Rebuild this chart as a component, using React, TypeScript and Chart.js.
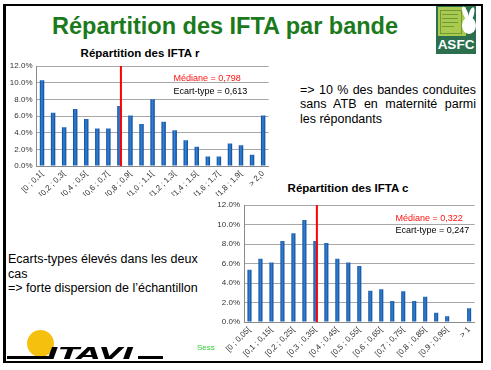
import React, { useEffect, useRef } from 'react';
import { Chart, registerables } from 'chart.js';

Chart.register(...registerables);

// ---------- data ----------
const labelsR = ['[0 ; 0,1[', '[0,1 ; 0,2[', '[0,2 ; 0,3[', '[0,3 ; 0,4[', '[0,4 ; 0,5[', '[0,5 ; 0,6[', '[0,6 ; 0,7[', '[0,7 ; 0,8[', '[0,8 ; 0,9[', '[0,9 ; 1,0[', '[1,0 ; 1,1[', '[1,1 ; 1,2[', '[1,2 ; 1,3[', '[1,3 ; 1,4[', '[1,4 ; 1,5[', '[1,5 ; 1,6[', '[1,6 ; 1,7[', '[1,7 ; 1,8[', '[1,8 ; 1,9[', '[1,9 ; 2,0[', '> 2,0'];
const valuesR = [10.3, 6.4, 4.65, 6.85, 5.65, 4.5, 4.5, 7.2, 6.05, 5.05, 8.0, 5.3, 4.3, 3.1, 2.3, 1.15, 1.15, 2.7, 2.5, 1.35, 6.05];

const labelsC = ['[0 ; 0,05[', '[0,05 ; 0,1[', '[0,1 ; 0,15[', '[0,15 ; 0,2[', '[0,2 ; 0,25[', '[0,25 ; 0,3[', '[0,3 ; 0,35[', '[0,35 ; 0,4[', '[0,4 ; 0,45[', '[0,45 ; 0,5[', '[0,5 ; 0,55[', '[0,55 ; 0,6[', '[0,6 ; 0,65[', '[0,65 ; 0,7[', '[0,7 ; 0,75[', '[0,75 ; 0,8[', '[0,8 ; 0,85[', '[0,85 ; 0,9[', '[0,9 ; 0,95[', '[0,95 ; 1[', '> 1'];
const valuesC = [5.35, 6.5, 6.1, 8.3, 9.1, 10.45, 8.3, 8.1, 6.5, 6.1, 5.75, 3.2, 3.35, 2.15, 3.15, 2.15, 2.6, 0.95, 0.6, 0, 1.4];

const yTicks = [0, 2, 4, 6, 8, 10, 12];

const medianR = 0.798;
const sdR = 0.613;
const binR = 0.1;
const medianC = 0.322;
const sdC = 0.247;
const binC = 0.05;

const FONT = '"Liberation Sans", Arial, Helvetica, sans-serif';

const fmt = (v: number) => v.toFixed(3).replace('.', ',');

const barFill = (barPct: number) => (c: any) => {
  const chart = c.chart;
  const xs = chart && chart.scales ? chart.scales.x : null;
  if (!xs || c.type !== 'data') return '#1a5fb8';
  const cx = xs.getPixelForValue(c.dataIndex);
  const n = xs.ticks ? xs.ticks.length : 0;
  const hw = n ? (xs.width / n) * barPct / 2 : 0;
  if (!isFinite(cx) || !(hw > 0)) return '#1a5fb8';
  const g = chart.ctx.createLinearGradient(cx - hw, 0, cx + hw, 0);
  g.addColorStop(0, '#0b4795');
  g.addColorStop(0.45, '#3383d8');
  g.addColorStop(1, '#0b4795');
  return g;
};

function BarChart(props: any) {
  const { labels, values, median, sd, bin, box, yWidth, xHeight, padTop, padRight, barPct, textFrac, textTop1, textTop2 } = props;
  const ref = useRef<HTMLCanvasElement | null>(null);
  useEffect(() => {
    const canvas = ref.current;
    if (!canvas) return;
    const medianPlugin = {
      id: 'medianLine',
      afterDatasetsDraw(chart: any) {
        const { ctx, chartArea, scales } = chart;
        const x = scales.x.getPixelForValue(Math.floor(median / bin)) + 1.5;
        ctx.save();
        ctx.strokeStyle = '#ff0000';
        ctx.lineWidth = 2;
        ctx.beginPath();
        ctx.moveTo(x, chartArea.top);
        ctx.lineTo(x, chartArea.bottom);
        ctx.stroke();
        ctx.font = '9px ' + FONT;
        ctx.textAlign = 'left';
        ctx.textBaseline = 'alphabetic';
        const tx = chartArea.left + textFrac * chartArea.width;
        ctx.fillStyle = '#ff1010';
        ctx.fillText('Médiane = ' + fmt(median), tx, chartArea.top + textTop1);
        ctx.fillStyle = '#000000';
        ctx.fillText('Ecart-type = ' + fmt(sd), tx, chartArea.top + textTop2);
        ctx.restore();
      },
    };
    const chart = new Chart(canvas, {
      type: 'bar',
      data: {
        labels,
        datasets: [
          {
            data: values,
            backgroundColor: barFill(barPct) as any,
            borderWidth: 0,
            barPercentage: barPct,
            categoryPercentage: 1,
          },
        ],
      },
      options: {
        animation: false,
        responsive: false,
        devicePixelRatio: 1,
        layout: { padding: { top: padTop, right: padRight, left: 0, bottom: 0 } },
        plugins: {
          legend: { display: false },
          tooltip: { enabled: false },
          title: { display: false },
        },
        scales: {
          x: {
            grid: { display: false, drawTicks: false },
            border: { display: true, color: '#8a8a8a', width: 1 },
            ticks: {
              autoSkip: false,
              maxRotation: 45,
              minRotation: 45,
              padding: 3,
              color: '#333333',
              font: { family: FONT, size: 8 },
              callback: (_v: any, i: number) => (i % 2 === 0 ? labels[i] : ''),
            },
            afterFit: (s: any) => {
              s.height = xHeight;
            },
          },
          y: {
            min: yTicks[0],
            max: yTicks[yTicks.length - 1],
            afterBuildTicks: (s: any) => {
              s.ticks = yTicks.map((v) => ({ value: v }));
            },
            grid: { color: '#a8a8a8', lineWidth: 1, drawTicks: false },
            border: { display: true, color: '#8a8a8a', width: 1 },
            ticks: {
              padding: 4,
              color: '#333333',
              font: { family: FONT, size: 8 },
              callback: (v: any) => Number(v).toFixed(1) + '%',
            },
            afterFit: (s: any) => {
              s.width = yWidth;
            },
          },
        },
      },
      plugins: [medianPlugin],
    } as any);
    return () => chart.destroy();
  }, []);
  return (
    <canvas
      ref={ref}
      width={box.w}
      height={box.h}
      style={{ position: 'absolute', left: box.x, top: box.y, width: box.w, height: box.h }}
    />
  );
}

function topFor(baseline: number, size: number, lh: number) {
  return baseline - ((lh - 1.117 * size) / 2 + 0.905 * size);
}

function Txt(props: any) {
  const { x, baseline, size, weight, color, width, align, children, family, style } = props;
  const lh = Math.round(size * 1.25);
  return (
    <div
      style={{
        position: 'absolute',
        left: x,
        top: topFor(baseline, size, lh),
        width: width,
        fontSize: size,
        lineHeight: lh + 'px',
        fontWeight: weight || 'normal',
        color: color || '#000',
        textAlign: align || 'left',
        whiteSpace: 'nowrap',
        fontFamily: family || FONT,
        ...(style || {}),
      }}
    >
      {children}
    </div>
  );
}

function JLine(props: any) {
  const { x, baseline, size, width, children, last } = props;
  const lh = Math.round(size * 1.25);
  return (
    <div
      style={{
        position: 'absolute',
        left: x,
        top: topFor(baseline, size, lh),
        width: width,
        fontSize: size,
        lineHeight: lh + 'px',
        color: '#000',
        textAlign: last ? 'left' : 'justify',
        textAlignLast: last ? 'left' : 'justify',
        whiteSpace: 'nowrap',
        fontFamily: FONT,
      } as any}
    >
      {children}
    </div>
  );
}

export default function App() {
  return (
    <div
      style={{
        position: 'absolute',
        left: 0,
        top: 0,
        width: 491,
        height: 370,
        background: '#ffffff',
        overflow: 'hidden',
        fontFamily: FONT,
      }}
    >
      {/* main title */}
      <Txt x={52} baseline={35} size={23.5} weight="bold" color="#1b7a1b">
        Répartition des IFTA par bande
      </Txt>

      {/* ASFC logo */}
      <div style={{ position: 'absolute', left: 436, top: 5, width: 40, height: 49, background: '#2b6f4e' }} />
      <div style={{ position: 'absolute', left: 438, top: 7, width: 28, height: 29, background: '#a9c94f' }} />
      <div style={{ position: 'absolute', left: 440, top: 10, width: 20, height: 22, border: '1px solid #6f9a3a' }} />
      <div style={{ position: 'absolute', left: 442, top: 14, width: 16, height: 1, background: '#6f9a3a' }} />
      <div style={{ position: 'absolute', left: 442, top: 18, width: 16, height: 1, background: '#6f9a3a' }} />
      <div style={{ position: 'absolute', left: 442, top: 22, width: 16, height: 1, background: '#6f9a3a' }} />
      <div style={{ position: 'absolute', left: 442, top: 26, width: 12, height: 1, background: '#6f9a3a' }} />
      <div style={{ position: 'absolute', left: 463, top: 6, width: 5, height: 15, borderRadius: '50%', background: '#ffffff', transform: 'rotate(-20deg)' }} />
      <div style={{ position: 'absolute', left: 469, top: 7, width: 5, height: 14, borderRadius: '50%', background: '#ffffff', transform: 'rotate(15deg)' }} />
      <div style={{ position: 'absolute', left: 462, top: 17, width: 14, height: 17, borderRadius: '50%', background: '#ffffff' }} />
      <Txt x={436} baseline={49} size={13.5} weight="bold" color="#ffffff" width={40} align="center">
        ASFC
      </Txt>

      {/* chart titles */}
      <Txt x={40} baseline={57} size={11.5} weight="bold" width={200} align="center">
        Répartition des IFTA r
      </Txt>
      <Txt x={248} baseline={192} size={11.5} weight="bold" width={200} align="center">
        Répartition des IFTA c
      </Txt>

      <BarChart
        labels={labelsR}
        values={valuesR}
        median={medianR}
        sd={sdR}
        bin={binR}
        box={{ x: 0, y: 56, w: 273, h: 140 }}
        yWidth={36.5}
        xHeight={30}
        padTop={10}
        padRight={3.5}
        barPct={0.4}
        textFrac={0.59}
        textTop1={14.7}
        textTop2={28}
      />
      <BarChart
        labels={labelsC}
        values={valuesC}
        median={medianC}
        sd={sdC}
        bin={binC}
        box={{ x: 208, y: 195, w: 271, h: 163 }}
        yWidth={36}
        xHeight={36}
        padTop={10}
        padRight={3.5}
        barPct={0.37}
        textFrac={0.657}
        textTop1={15.5}
        textTop2={28.3}
      />

      {/* right text */}
      <JLine x={300} baseline={94.3} size={12.5} width={176}>=&gt; 10 % des bandes conduites</JLine>
      <JLine x={300} baseline={108.6} size={12.5} width={176}>sans ATB en maternité parmi</JLine>
      <JLine x={300} baseline={123} size={12.5} width={176} last>les répondants</JLine>

      {/* left text */}
      <Txt x={8} baseline={263.5} size={12.5}>Ecarts-types élevés dans les deux</Txt>
      <Txt x={8} baseline={278} size={12.5}>cas</Txt>
      <Txt x={8} baseline={292.5} size={12.5}>=&gt; forte dispersion de l’échantillon</Txt>

      {/* Sess */}
      <Txt x={197} baseline={350.5} size={8} color="#33cc33">Sess</Txt>

      {/* ITAVI logo */}
      <div style={{ position: 'absolute', left: 27, top: 330, width: 27, height: 27, borderRadius: '50%', background: '#f6c10e' }} />
      <div style={{ position: 'absolute', left: 7, top: 356, width: 45, height: 3, background: '#000' }} />
      <div style={{ position: 'absolute', left: 138, top: 356, width: 25, height: 3, background: '#000' }} />
      <div
        style={{
          position: 'absolute',
          left: 47,
          top: topFor(359, 15, 18),
          fontSize: 15,
          lineHeight: '18px',
          fontWeight: 900,
          fontStyle: 'italic',
          fontFamily: '"DejaVu Sans", sans-serif',
          color: '#000',
          transform: 'scaleX(2.05)',
          transformOrigin: 'left center',
          whiteSpace: 'nowrap',
        }}
      >
        ITAVI
      </div>

      {/* slide frame */}
      <div
        style={{
          position: 'absolute',
          left: 3,
          top: 4,
          width: 480,
          height: 359,
          boxSizing: 'border-box',
          borderStyle: 'solid',
          borderColor: '#000',
          borderWidth: '2px 2px 2px 3px',
        }}
      />
    </div>
  );
}
